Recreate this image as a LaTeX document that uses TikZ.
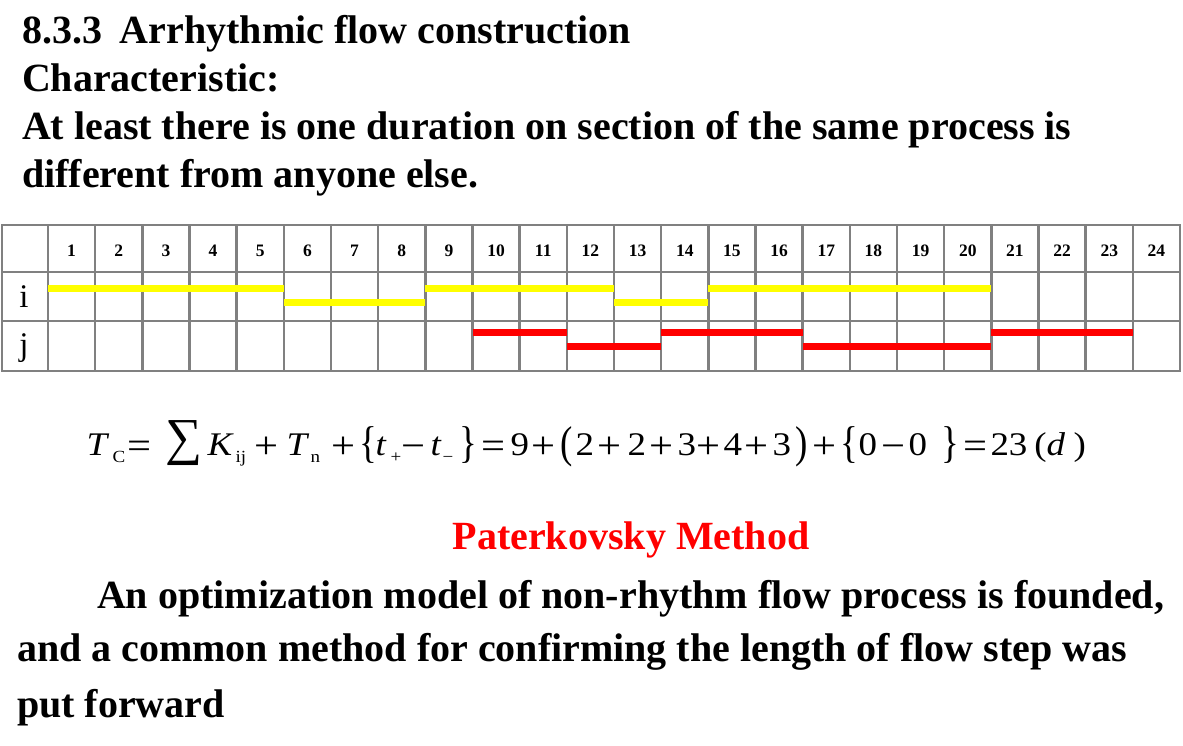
\documentclass[tikz,border=0pt]{standalone}
\usepackage{fontspec}
\setmainfont{Liberation Serif}
\newfontfamily\eqfont[FakeStretch=1.12]{Liberation Serif}
\usepackage{graphicx}
\definecolor{gridgray}{HTML}{808080}
\definecolor{ybar}{HTML}{FFFF00}
\definecolor{rbar}{HTML}{FF0000}
\newcommand\fpc[2]{\makebox[0pt][l]{\hspace{#1pt}#2}}
\newcommand\sbx[1]{\raisebox{-7.5pt}{\fontsize{17}{17}\selectfont #1}}
\newcommand\opx[1]{\raisebox{-3.5pt}{\fontsize{38}{38}\selectfont #1}}
\newcommand\tallb[1]{\raisebox{-2pt}{\scalebox{1}[1.35]{#1}}}
\begin{document}
\begin{tikzpicture}[x=1pt,y=-1pt,
  every node/.style={inner sep=0pt, outer sep=0pt},
  headline/.style={anchor=base west, font=\fontsize{40}{40}\selectfont\bfseries},
  bodyline/.style={anchor=base west, font=\fontsize{40}{40}\selectfont\bfseries},
  methodtitle/.style={anchor=base, font=\fontsize{40}{40}\selectfont\bfseries, text=rbar},
  gridline/.style={draw=gridgray, line width=2.6pt},
  hdr/.style={anchor=center, font=\fontsize{17.5}{17.5}\selectfont\bfseries},
  rowlab/.style={anchor=base, font=\fontsize{33}{33}\selectfont},
  ybarline/.style={draw=ybar, line width=7pt},
  rbarline/.style={draw=rbar, line width=7pt},
  formula/.style={anchor=base west, font=\eqfont\fontsize{33}{33}\selectfont}]
\useasboundingbox (0,0) rectangle (1183,745);

% heading text
\node[headline] (t1) at (22,43) {8.3.3\hspace{0.45em}Arrhythmic flow construction};
\node[headline] (t2) at (22,91) {Characteristic:};
\node[headline] (t3) at (22,139) {At least there is one duration on section of the same process is};
\node[headline] (t4) at (22,187) {different from anyone else.};

% table grid
\draw[gridline] (2,225) rectangle (1180,371);
\draw[gridline] (2,272) -- (1180,272);
\draw[gridline] (2,321) -- (1180,321);
\foreach \k in {0,...,23} \draw[gridline] ({48+\k*47.1667},225) -- ({48+\k*47.1667},371);

% header numbers
\foreach \k in {1,...,24} \node[hdr] (h\k) at ({48+(\k-0.5)*47.1667},250.5) {\k};
\node[rowlab] (ri) at (24,307) {i};
\node[rowlab] (rj) at (24,355) {j};

% bars
\foreach \a/\b/\yy in {1/5/288,6/8/302,9/12/288,13/14/302,15/20/288}
  \draw[ybarline] ({48+(\a-1)*47.1667},\yy) -- ({48+\b*47.1667},\yy);
\foreach \a/\b/\yy in {10/11/332,12/13/346,14/16/332,17/20/346,21/23/332}
  \draw[rbarline] ({48+(\a-1)*47.1667},\yy) -- ({48+\b*47.1667},\yy);

% formula
\node[formula] (eq) at (86,455) {%
\fpc{0}{\itshape T}%
\fpc{26}{\sbx{C}}%
\fpc{41}{\opx{=}}%
\fpc{79}{\raisebox{1pt}{\resizebox*{37pt}{45pt}{∑}}}%
\fpc{121}{\itshape K}%
\fpc{149}{\sbx{ij}}%
\fpc{168}{\opx{+}}%
\fpc{200}{\itshape T}%
\fpc{224}{\sbx{n}}%
\fpc{245}{\opx{+}}%
\fpc{273}{\tallb{\{}}%
\fpc{289}{\itshape t}%
\fpc{304}{\sbx{+}}%
\fpc{315}{\opx{−}}%
\fpc{344}{\itshape t}%
\fpc{356}{\sbx{−}}%
\fpc{373}{\tallb{\}}}%
\fpc{395}{\opx{=}}%
\fpc{424}{9}%
\fpc{445}{\opx{+}}%
\fpc{474}{\tallb{(}}%
\fpc{489}{2}%
\fpc{511}{\opx{+}}%
\fpc{541}{2}%
\fpc{563}{\opx{+}}%
\fpc{591}{3}%
\fpc{610}{\opx{+}}%
\fpc{637}{4}%
\fpc{658}{\opx{+}}%
\fpc{686}{3}%
\fpc{709}{\tallb{)}}%
\fpc{726}{\opx{+}}%
\fpc{754}{\tallb{\{}}%
\fpc{772}{0}%
\fpc{795}{\opx{−}}%
\fpc{822}{0}%
\fpc{855}{\tallb{\}}}%
\fpc{877}{\opx{=}}%
\fpc{904}{23}%
\fpc{948}{(}%
\fpc{960}{\itshape d}%
\fpc{987}{)}%
};

% method
\node[methodtitle] (m) at (631,549) {Paterkovsky Method};
\node[bodyline] (p1) at (97,608) {An optimization model of non-rhythm flow process is founded,};
\node[bodyline] (p2) at (17,661) {and a common method for confirming the length of flow step was};
\node[bodyline] (p3) at (17,717) {put forward};
\end{tikzpicture}
\end{document}
